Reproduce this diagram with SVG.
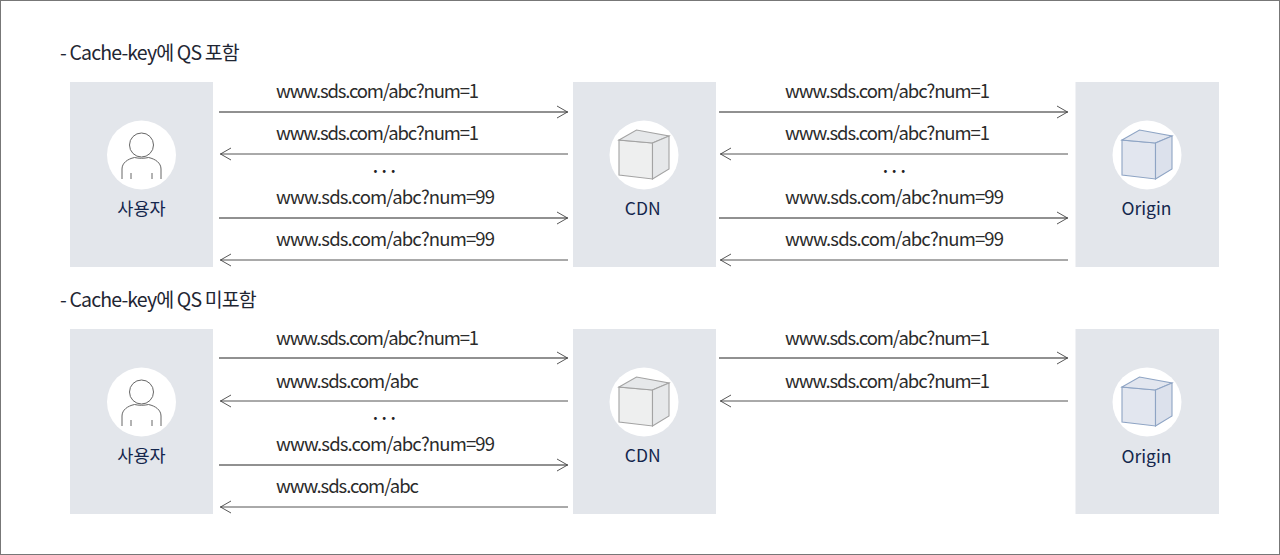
<svg xmlns="http://www.w3.org/2000/svg" width="1280" height="555" viewBox="0 0 1280 555">
<style>
text{font-family:"Noto Sans CJK KR","Noto Sans",sans-serif;}
.box{fill:#e3e6eb}
.disc{fill:#fff}
.url{font-size:18.5px;fill:#2b2b2b;letter-spacing:-1px}
.head{font-size:19.5px;fill:#1f2633;letter-spacing:-0.8px}
.label{font-size:17.5px;fill:#14264d;text-anchor:middle}
.dots{font-size:18px;fill:#222;text-anchor:middle;letter-spacing:3.5px;font-weight:500}
.fwd{stroke:#222;stroke-width:1;fill:none;marker-end:url(#a)}
.bwd{stroke:#555;stroke-width:1;fill:none;marker-end:url(#a)}
.person{fill:none;stroke:#666;stroke-width:1}
.g1{fill:#eeefef;stroke:#a3a3a3;stroke-width:1.1}
.g2{fill:#e6e8ea;stroke:#a3a3a3;stroke-width:1.1}
.b1{fill:#e2e6ef;stroke:#8ea4c4;stroke-width:1.1}
.b2{fill:#dce1ec;stroke:#8ea4c4;stroke-width:1.1}
</style>
<defs>
<marker id="a" markerUnits="userSpaceOnUse" markerWidth="14" markerHeight="16" refX="12" refY="7" orient="auto">
<path d="M1 1 L11.500 7 L1 13" fill="none" stroke="#444" stroke-width="0.9"/>
</marker>
<g id="user">
<circle class="disc" cx="0" cy="0" r="34.500"/>
<circle class="person" cx="0" cy="-10" r="12"/>
<path class="person" d="M-19.500 24V14C-19.500 8-14 4-7 2.500C-3 3.500 3 3.500 7 2.500C14 4 19.500 8 19.500 14V24M-10.500 18V24M10.500 18V24"/>
</g>
<g id="cubeGray">
<circle class="disc" cx="0" cy="0" r="34.500"/>
<path class="g1" d="M-25-15L8.500-12V24L-25 20Z"/>
<path class="g2" d="M-25-15L-7.500-25L25-19L8.500-12Z"/>
<path class="g2" d="M8.500-12L25-19V14L8.500 24Z"/>
</g>
<g id="cubeBlue">
<circle class="disc" cx="0" cy="0" r="34.500"/>
<path class="b1" d="M-25-15L8.500-12V24L-25 20Z"/>
<path class="b1" d="M-25-15L-7.500-25L25-19L8.500-12Z"/>
<path class="b2" d="M8.500-12L25-19V14L8.500 24Z"/>
</g>
</defs>
<rect width="1280" height="555" fill="#fff"/>
<rect x="0.500" y="0.500" width="1279" height="554" fill="none" stroke="#777" stroke-width="1"/>

<text class="head" x="60" y="60" textLength="179">- Cache-key에 QS 포함</text>
<text class="head" x="60" y="307" textLength="196">- Cache-key에 QS 미포함</text>

<g id="user-1"><rect class="box" x="70" y="82" width="143" height="185"/><use href="#user" x="141.500" y="155"/><text class="label" x="141.500" y="215">사용자</text></g>
<g id="cdn-1"><rect class="box" x="573" y="82" width="143" height="185"/><use href="#cubeGray" x="644" y="155"/><text class="label" x="642.700" y="215">CDN</text></g>
<g id="origin-1"><rect class="box" x="1075.500" y="82" width="143.500" height="185"/><use href="#cubeBlue" x="1147" y="155"/><text class="label" x="1146.500" y="215">Origin</text></g>
<g id="user-2"><rect class="box" x="70" y="329" width="143" height="185"/><use href="#user" x="141.500" y="402"/><text class="label" x="141.500" y="462">사용자</text></g>
<g id="cdn-2"><rect class="box" x="573" y="329" width="143" height="185"/><use href="#cubeGray" x="644" y="402"/><text class="label" x="642.700" y="462">CDN</text></g>
<g id="origin-2"><rect class="box" x="1075.500" y="329" width="143.500" height="185"/><use href="#cubeBlue" x="1147" y="402"/><text class="label" x="1146.500" y="463">Origin</text></g>

<g id="connectors">
<path class="fwd" d="M219 112H568"/><path class="bwd" d="M568 154H220"/><path class="fwd" d="M219 218H568"/><path class="bwd" d="M568 260H220"/>
<path class="fwd" d="M719 112H1068"/><path class="bwd" d="M1068 154H720"/><path class="fwd" d="M719 218H1068"/><path class="bwd" d="M1068 260H720"/>
<path class="fwd" d="M219 358H568"/><path class="bwd" d="M568 401H220"/><path class="fwd" d="M219 465H568"/><path class="bwd" d="M568 507H220"/>
<path class="fwd" d="M719 358H1068"/><path class="bwd" d="M1068 401H720"/>
</g>

<g id="labels">
<text class="url" x="276" y="97.500" textLength="202">www.sds.com/abc?num=1</text>
<text class="url" x="276" y="139.500" textLength="202">www.sds.com/abc?num=1</text>
<text class="dots" x="386" y="173">...</text>
<text class="url" x="276" y="203.500" textLength="218">www.sds.com/abc?num=99</text>
<text class="url" x="276" y="245.500" textLength="218">www.sds.com/abc?num=99</text>
<text class="url" x="785" y="97.500" textLength="204">www.sds.com/abc?num=1</text>
<text class="url" x="785" y="139.500" textLength="204">www.sds.com/abc?num=1</text>
<text class="dots" x="896" y="173">...</text>
<text class="url" x="785" y="203.500" textLength="218">www.sds.com/abc?num=99</text>
<text class="url" x="785" y="245.500" textLength="218">www.sds.com/abc?num=99</text>
<text class="url" x="276" y="344.500" textLength="202">www.sds.com/abc?num=1</text>
<text class="url" x="276" y="387.500" textLength="142">www.sds.com/abc</text>
<text class="dots" x="386" y="420">...</text>
<text class="url" x="276" y="450.500" textLength="218">www.sds.com/abc?num=99</text>
<text class="url" x="276" y="492.500" textLength="142">www.sds.com/abc</text>
<text class="url" x="785" y="344.500" textLength="204">www.sds.com/abc?num=1</text>
<text class="url" x="785" y="387.500" textLength="204">www.sds.com/abc?num=1</text>
</g>
</svg>
